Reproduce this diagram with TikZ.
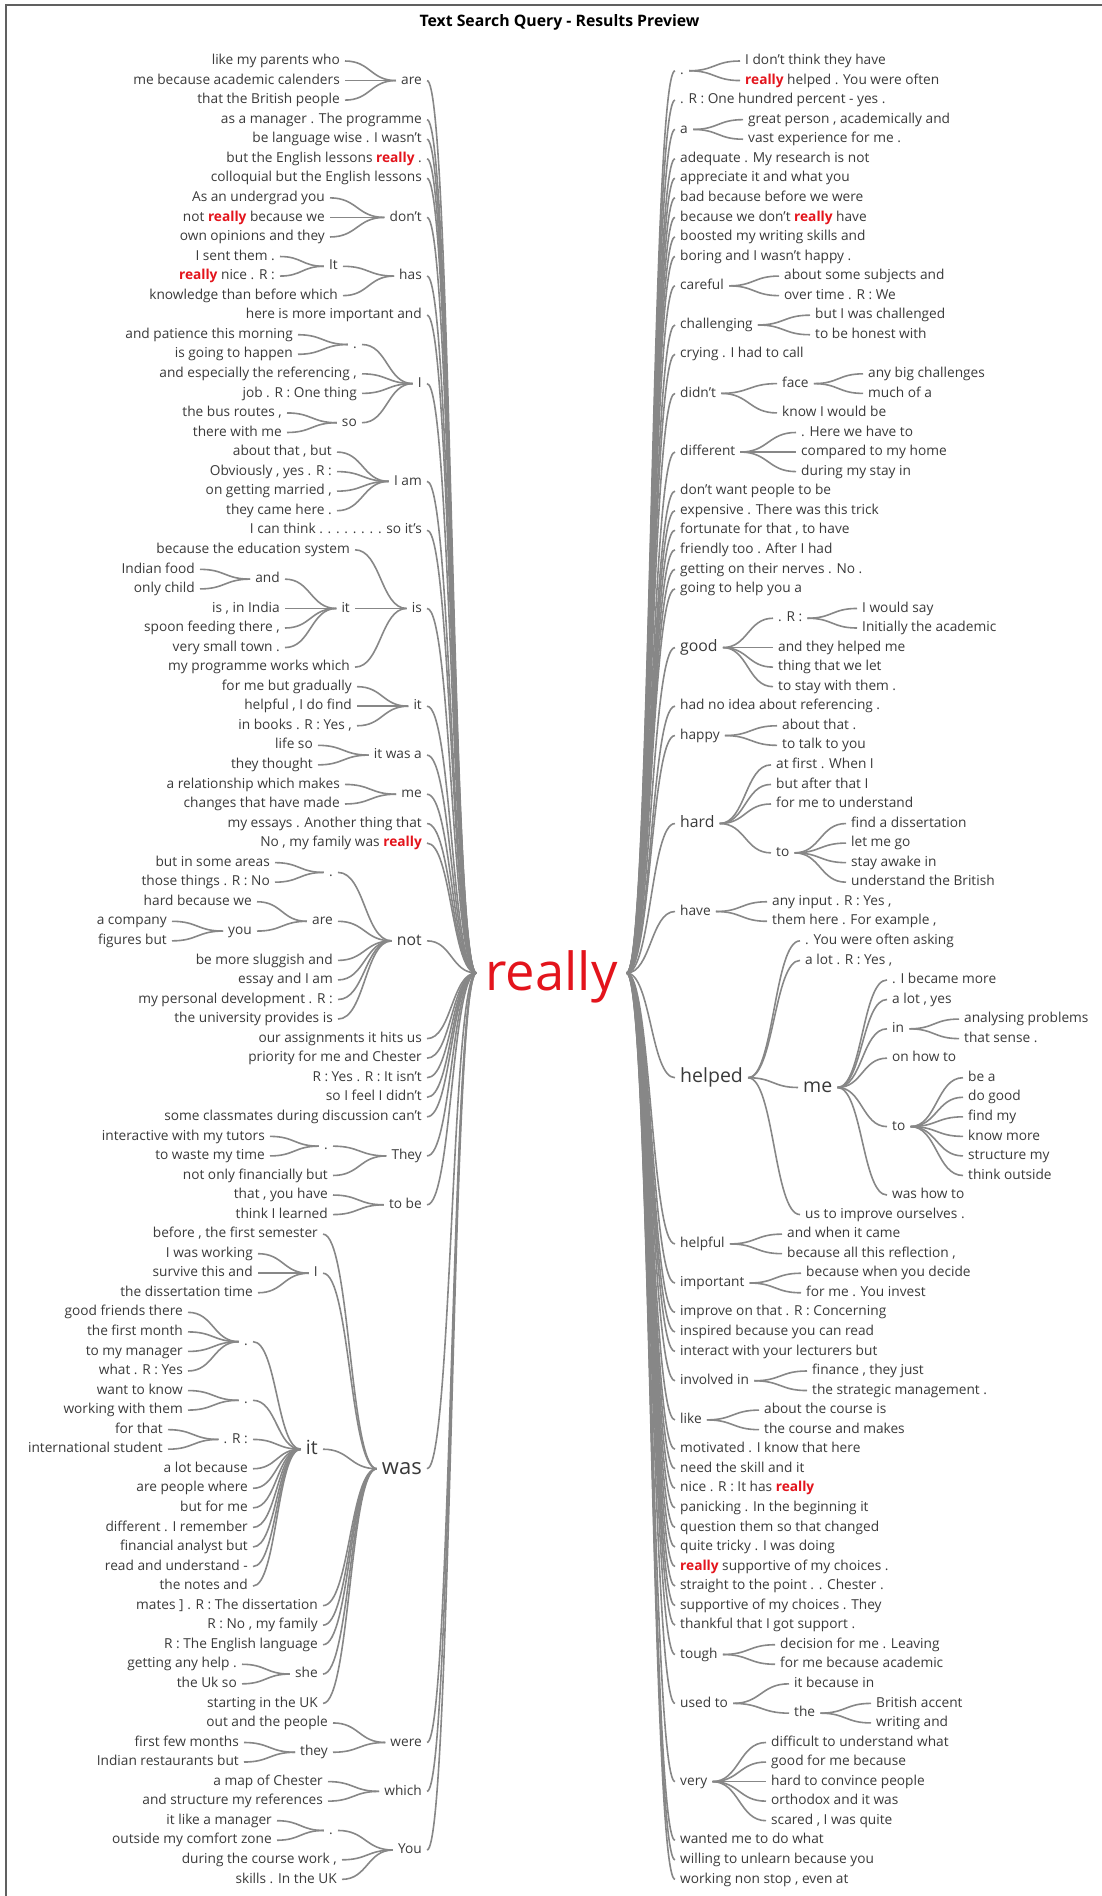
\documentclass[tikz,border=0pt]{standalone}
\usepackage{fontspec}
\setmainfont{Open Sans}
\usetikzlibrary{calc}
\definecolor{tx}{HTML}{3A3A3A}
\definecolor{lc}{HTML}{878787}
\definecolor{rd}{HTML}{E3141C}
\definecolor{fr}{HTML}{606060}
\newcommand\RedR{{\bfseries\color{rd}really}}
\newcommand\RY[1]{61+19.552*(#1)}
\newcommand\Lw[4]{\node[L] (#1) at (#2,{\RY{#3}}) {#4};}
\newcommand\Rw[4]{\node[R] (#1) at (#2,{\RY{#3}}) {#4};}
\tikzset{
 wd/.style={font=\fontsize{13.7pt}{16pt}\selectfont, text=tx, inner xsep=5pt, inner ysep=0pt, text height=9.5pt, text depth=2.2pt},
 L/.style={wd, anchor=east, xshift=5pt},
 R/.style={wd, anchor=west, xshift=-5pt},
 md/.style={font=\fontsize{15.8pt}{18pt}\selectfont, text height=11pt, text depth=2.6pt},
 bg/.style={font=\fontsize{19.5pt}{22pt}\selectfont, text height=13.4pt, text depth=3.1pt},
 bgg/.style={font=\fontsize{22pt}{25pt}\selectfont, text height=15.1pt, text depth=3.5pt},
 hc/.style={to path={let \p1=(\tikztostart), \p2=(\tikztotarget), \p3=($(\p1)!0.5!(\p2)$) in .. controls (\x3,\y1) and (\x3,\y2) .. (\tikztotarget)}},
 ln/.style={draw=lc, line width=1.6pt, hc},
}
\begin{document}
\begin{tikzpicture}[x=1pt,y=-1pt]
\useasboundingbox (0,0) rectangle (1102,1896);
\draw[draw=fr, line width=2pt] (6,1896) -- (6,4.5) -- (1102,4.5);
\node[font=\fontsize{15.8pt}{18pt}\selectfont\bfseries, text=black, inner sep=0pt] (title) at (559.5,22) {Text Search Query - Results Preview};
\node[font=\fontsize{52.5pt}{60pt}\selectfont, text=rd, inner xsep=9pt, inner ysep=0pt, text height=40pt, text depth=6pt] (rt) at (551.5,973) {really};

% ---------- LEFT: level 1 ----------
\Lw{a1}{422}{1}{are}
\Lw{l3}{422}{3}{as a manager . The programme}
\Lw{l4}{422}{4}{be language wise . I wasn't}
\Lw{l5}{422}{5}{but the English lessons \RedR{} .}
\Lw{l6}{422}{6}{colloquial but the English lessons}
\Lw{a2}{422}{8}{don't}
\Lw{a3}{422}{11}{has}
\Lw{l13}{422}{13}{here is more important and}
\Lw{a4}{422}{16.5}{I}
\Lw{a5}{422}{21.5}{I am}
\Lw{l24}{422}{24}{I can think . . . . . . . . so it's}
\Lw{a6}{422}{28}{is}
\Lw{a7}{422}{33}{it}
\Lw{a8}{422}{35.5}{it was a}
\Lw{a9}{422}{37.5}{me}
\Lw{l39}{422}{39}{my essays . Another thing that}
\Lw{l40}{422}{40}{No , my family was \RedR}
\node[L,md] (a10) at (422,{\RY{45}}) {not};
\Lw{l50}{422}{50}{our assignments it hits us}
\Lw{l51}{422}{51}{priority for me and Chester}
\Lw{l52}{422}{52}{R : Yes . R : It isn't}
\Lw{l53}{422}{53}{so I feel I didn't}
\Lw{l54}{422}{54}{some classmates during discussion can't}
\Lw{a11}{422}{56}{They}
\Lw{a12}{422}{58.5}{to be}
\node[L,bgg] (a13) at (422,{\RY{72}}) {was};
\Lw{a14}{422}{86}{were}
\Lw{a15}{422}{88.5}{which}
\Lw{a16}{422}{91.5}{You}

% ---------- LEFT: deeper ----------
\Lw{l0}{340}{0}{like my parents who}
\Lw{l1}{340}{1}{me because academic calenders}
\Lw{l2}{340}{2}{that the British people}
\Lw{l7}{325}{7}{As an undergrad you}
\Lw{l8}{325}{8}{not \RedR{} because we}
\Lw{l9}{325}{9}{own opinions and they}
\Lw{b1}{338}{10.5}{It}
\Lw{l10}{275}{10}{I sent them .}
\Lw{l11}{275}{11}{\RedR{} nice . R :}
\Lw{l12}{338}{12}{knowledge than before which}
\Lw{b2}{357}{14.5}{.}
\Lw{l14}{293}{14}{and patience this morning}
\Lw{l15}{293}{15}{is going to happen}
\Lw{l16}{357}{16}{and especially the referencing ,}
\Lw{l17}{357}{17}{job . R : One thing}
\Lw{b3}{357}{18.5}{so}
\Lw{l18}{282}{18}{the bus routes ,}
\Lw{l19}{282}{19}{there with me}
\Lw{l20}{332}{20}{about that , but}
\Lw{l21}{332}{21}{Obviously , yes . R :}
\Lw{l22}{332}{22}{on getting married ,}
\Lw{l23}{332}{23}{they came here .}
\Lw{l25}{350}{25}{because the education system}
\Lw{b4}{350}{28}{it}
\Lw{b5}{280}{26.5}{and}
\Lw{l26}{195}{26}{Indian food}
\Lw{l27}{195}{27}{only child}
\Lw{l28}{280}{28}{is , in India}
\Lw{l29}{280}{29}{spoon feeding there ,}
\Lw{l30}{280}{30}{very small town .}
\Lw{l31}{350}{31}{my programme works which}
\Lw{l32}{352}{32}{for me but gradually}
\Lw{l33}{352}{33}{helpful , I do find}
\Lw{l34}{352}{34}{in books . R : Yes ,}
\Lw{l35}{313}{35}{life so}
\Lw{l36}{313}{36}{they thought}
\Lw{l37}{340}{37}{a relationship which makes}
\Lw{l38}{340}{38}{changes that have made}
\Lw{b6}{333}{41.5}{.}
\Lw{l41}{270}{41}{but in some areas}
\Lw{l42}{270}{42}{those things . R : No}
\Lw{b7}{333}{44}{are}
\Lw{l43}{252}{43}{hard because we}
\Lw{b8}{252}{44.5}{you}
\Lw{l44}{167}{44}{a company}
\Lw{l45}{167}{45}{figures but}
\Lw{l46}{333}{46}{be more sluggish and}
\Lw{l47}{333}{47}{essay and I am}
\Lw{l48}{333}{48}{my personal development . R :}
\Lw{l49}{333}{49}{the university provides is}
\Lw{b9}{328}{55.5}{.}
\Lw{l55}{265}{55}{interactive with my tutors}
\Lw{l56}{265}{56}{to waste my time}
\Lw{l57}{328}{57}{not only financially but}
\Lw{l58}{328}{58}{that , you have}
\Lw{l59}{328}{59}{think I learned}
\Lw{l60}{318}{60}{before , the first semester}
\Lw{b10}{318}{62}{I}
\Lw{l61}{253}{61}{I was working}
\Lw{l62}{253}{62}{survive this and}
\Lw{l63}{253}{63}{the dissertation time}
\node[L,bg] (b11) at (318,{\RY{71}}) {it};
\Lw{b13}{248}{65.5}{.}
\Lw{l64}{183}{64}{good friends there}
\Lw{l65}{183}{65}{the first month}
\Lw{l66}{183}{66}{to my manager}
\Lw{l67}{183}{67}{what . R : Yes}
\Lw{b14}{248}{68.5}{.}
\Lw{l68}{183}{68}{want to know}
\Lw{l69}{183}{69}{working with them}
\Lw{b15}{248}{70.5}{. R :}
\Lw{l70}{163}{70}{for that}
\Lw{l71}{163}{71}{international student}
\Lw{l72}{248}{72}{a lot because}
\Lw{l73}{248}{73}{are people where}
\Lw{l74}{248}{74}{but for me}
\Lw{l75}{248}{75}{different . I remember}
\Lw{l76}{248}{76}{financial analyst but}
\Lw{l77}{248}{77}{read and understand -}
\Lw{l78}{248}{78}{the notes and}
\Lw{l79}{318}{79}{mates ] . R : The dissertation}
\Lw{l80}{318}{80}{R : No , my family}
\Lw{l81}{318}{81}{R : The English language}
\Lw{b12}{318}{82.5}{she}
\Lw{l82}{237}{82}{getting any help .}
\Lw{l83}{237}{83}{the Uk so}
\Lw{l84}{318}{84}{starting in the UK}
\Lw{l85}{328}{85}{out and the people}
\Lw{b16}{328}{86.5}{they}
\Lw{l86}{239}{86}{first few months}
\Lw{l87}{239}{87}{Indian restaurants but}
\Lw{l88}{323}{88}{a map of Chester}
\Lw{l89}{323}{89}{and structure my references}
\Lw{b17}{333}{90.5}{.}
\Lw{l90}{272}{90}{it like a manager}
\Lw{l91}{272}{91}{outside my comfort zone}
\Lw{l92}{337}{92}{during the course work ,}
\Lw{l93}{337}{93}{skills . In the UK}

% ---------- RIGHT: level 1 ----------
\Rw{c1}{680}{0.5}{.}
\Rw{m2}{680}{2}{. R : One hundred percent - yes .}
\Rw{c2}{680}{3.5}{a}
\Rw{m5}{680}{5}{adequate . My research is not}
\Rw{m6}{680}{6}{appreciate it and what you}
\Rw{m7}{680}{7}{bad because before we were}
\Rw{m8}{680}{8}{because we don't \RedR{} have}
\Rw{m9}{680}{9}{boosted my writing skills and}
\Rw{m10}{680}{10}{boring and I wasn't happy .}
\Rw{c3}{680}{11.5}{careful}
\Rw{c4}{680}{13.5}{challenging}
\Rw{m15}{680}{15}{crying . I had to call}
\Rw{c5}{680}{17}{didn't}
\Rw{c6}{680}{20}{different}
\Rw{m22}{680}{22}{don't want people to be}
\Rw{m23}{680}{23}{expensive . There was this trick}
\Rw{m24}{680}{24}{fortunate for that , to have}
\Rw{m25}{680}{25}{friendly too . After I had}
\Rw{m26}{680}{26}{getting on their nerves . No .}
\Rw{m27}{680}{27}{going to help you a}
\node[R,md] (c7) at (680,{\RY{30}}) {good};
\Rw{m33}{680}{33}{had no idea about referencing .}
\Rw{c8}{680}{34.5}{happy}
\node[R,md] (c9) at (680,{\RY{39}}) {hard};
\Rw{c10}{680}{43.5}{have}
\node[R,bg] (c11) at (680,{\RY{52}}) {helped};
\Rw{c12}{680}{60.5}{helpful}
\Rw{c13}{680}{62.5}{important}
\Rw{m64}{680}{64}{improve on that . R : Concerning}
\Rw{m65}{680}{65}{inspired because you can read}
\Rw{m66}{680}{66}{interact with your lecturers but}
\Rw{c14}{680}{67.5}{involved in}
\Rw{c15}{680}{69.5}{like}
\Rw{m71}{680}{71}{motivated . I know that here}
\Rw{m72}{680}{72}{need the skill and it}
\Rw{m73}{680}{73}{nice . R : It has \RedR}
\Rw{m74}{680}{74}{panicking . In the beginning it}
\Rw{m75}{680}{75}{question them so that changed}
\Rw{m76}{680}{76}{quite tricky . I was doing}
\Rw{m77}{680}{77}{\RedR{} supportive of my choices .}
\Rw{m78}{680}{78}{straight to the point . . Chester .}
\Rw{m79}{680}{79}{supportive of my choices . They}
\Rw{m80}{680}{80}{thankful that I got support .}
\Rw{c16}{680}{81.5}{tough}
\Rw{c17}{680}{84}{used to}
\Rw{c18}{680}{88}{very}
\Rw{m91}{680}{91}{wanted me to do what}
\Rw{m92}{680}{92}{willing to unlearn because you}
\Rw{m93}{680}{93}{working non stop , even at}

% ---------- RIGHT: deeper ----------
\Rw{m0}{745}{0}{I don't think they have}
\Rw{m1}{745}{1}{\RedR{} helped . You were often}
\Rw{m3}{748}{3}{great person , academically and}
\Rw{m4}{748}{4}{vast experience for me .}
\Rw{m11}{784}{11}{about some subjects and}
\Rw{m12}{784}{12}{over time . R : We}
\Rw{m13}{815}{13}{but I was challenged}
\Rw{m14}{815}{14}{to be honest with}
\Rw{d1}{782}{16.5}{face}
\Rw{m16}{868}{16}{any big challenges}
\Rw{m17}{868}{17}{much of a}
\Rw{m18}{782}{18}{know I would be}
\Rw{m19}{801}{19}{. Here we have to}
\Rw{m20}{801}{20}{compared to my home}
\Rw{m21}{801}{21}{during my stay in}
\Rw{d2}{778}{28.5}{. R :}
\Rw{m28}{862}{28}{I would say}
\Rw{m29}{862}{29}{Initially the academic}
\Rw{m30}{778}{30}{and they helped me}
\Rw{m31}{778}{31}{thing that we let}
\Rw{m32}{778}{32}{to stay with them .}
\Rw{m34}{782}{34}{about that .}
\Rw{m35}{782}{35}{to talk to you}
\Rw{m36}{776}{36}{at first . When I}
\Rw{m37}{776}{37}{but after that I}
\Rw{m38}{776}{38}{for me to understand}
\Rw{d3}{776}{40.5}{to}
\Rw{m39}{851}{39}{find a dissertation}
\Rw{m40}{851}{40}{let me go}
\Rw{m41}{851}{41}{stay awake in}
\Rw{m42}{851}{42}{understand the British}
\Rw{m43}{772}{43}{any input . R : Yes ,}
\Rw{m44}{772}{44}{them here . For example ,}
\Rw{m45}{805}{45}{. You were often asking}
\Rw{m46}{805}{46}{a lot . R : Yes ,}
\node[R,bg] (d4) at (803,{\RY{52.5}}) {me};
\Rw{m47}{892}{47}{. I became more}
\Rw{m48}{892}{48}{a lot , yes}
\Rw{d5}{892}{49.5}{in}
\Rw{m49}{964}{49}{analysing problems}
\Rw{m50}{964}{50}{that sense .}
\Rw{m51}{892}{51}{on how to}
\Rw{d6}{892}{54.5}{to}
\Rw{m52}{968}{52}{be a}
\Rw{m53}{968}{53}{do good}
\Rw{m54}{968}{54}{find my}
\Rw{m55}{968}{55}{know more}
\Rw{m56}{968}{56}{structure my}
\Rw{m57}{968}{57}{think outside}
\Rw{m58}{892}{58}{was how to}
\Rw{m59}{805}{59}{us to improve ourselves .}
\Rw{m60}{787}{60}{and when it came}
\Rw{m61}{787}{61}{because all this reflection ,}
\Rw{m62}{806}{62}{because when you decide}
\Rw{m63}{806}{63}{for me . You invest}
\Rw{m67}{812}{67}{finance , they just}
\Rw{m68}{812}{68}{the strategic management .}
\Rw{m69}{764}{69}{about the course is}
\Rw{m70}{764}{70}{the course and makes}
\Rw{m81}{780}{81}{decision for me . Leaving}
\Rw{m82}{780}{82}{for me because academic}
\Rw{m83}{794}{83}{it because in}
\Rw{d7}{794}{84.5}{the}
\Rw{m84}{876}{84}{British accent}
\Rw{m85}{876}{85}{writing and}
\Rw{m86}{771}{86}{difficult to understand what}
\Rw{m87}{771}{87}{good for me because}
\Rw{m88}{771}{88}{hard to convince people}
\Rw{m89}{771}{89}{orthodox and it was}
\Rw{m90}{771}{90}{scared , I was quite}

% ---------- connectors LEFT ----------
\foreach \ch in {a1,l3,l4,l5,l6,a2,a3,l13,a4,a5,l24,a6,a7,a8,a9,l39,l40,a10,l50,l51,l52,l53,l54,a11,a12,a13,a14,a15,a16}
  {\draw[ln] (\ch.east) to (rt.west);}
\foreach \pa/\kids in {a1/{l0,l1,l2}, a2/{l7,l8,l9}, a3/{b1,l12}, b1/{l10,l11},
  a4/{b2,l16,l17,b3}, b2/{l14,l15}, b3/{l18,l19}, a5/{l20,l21,l22,l23},
  a6/{l25,b4,l31}, b4/{b5,l28,l29,l30}, b5/{l26,l27}, a7/{l32,l33,l34},
  a8/{l35,l36}, a9/{l37,l38}, a10/{b6,b7,l46,l47,l48,l49}, b6/{l41,l42},
  b7/{l43,b8}, b8/{l44,l45}, a11/{b9,l57}, b9/{l55,l56}, a12/{l58,l59},
  a13/{l60,b10,b11,l79,l80,l81,b12,l84}, b10/{l61,l62,l63},
  b11/{b13,b14,b15,l72,l73,l74,l75,l76,l77,l78}, b13/{l64,l65,l66,l67},
  b14/{l68,l69}, b15/{l70,l71}, b12/{l82,l83}, a14/{l85,b16}, b16/{l86,l87},
  a15/{l88,l89}, a16/{b17,l92,l93}, b17/{l90,l91}}
  {\foreach \ch in \kids {\draw[ln] (\ch.east) to (\pa.west);}}

% ---------- connectors RIGHT ----------
\foreach \ch in {c1,m2,c2,m5,m6,m7,m8,m9,m10,c3,c4,m15,c5,c6,m22,m23,m24,m25,m26,m27,c7,m33,c8,c9,c10,c11,c12,c13,m64,m65,m66,c14,c15,m71,m72,m73,m74,m75,m76,m77,m78,m79,m80,c16,c17,c18,m91,m92,m93}
  {\draw[ln] (rt.east) to (\ch.west);}
\foreach \pa/\kids in {c1/{m0,m1}, c2/{m3,m4}, c3/{m11,m12}, c4/{m13,m14},
  c5/{d1,m18}, d1/{m16,m17}, c6/{m19,m20,m21}, c7/{d2,m30,m31,m32}, d2/{m28,m29},
  c8/{m34,m35}, c9/{m36,m37,m38,d3}, d3/{m39,m40,m41,m42}, c10/{m43,m44},
  c11/{m45,m46,d4,m59}, d4/{m47,m48,d5,m51,d6,m58}, d5/{m49,m50},
  d6/{m52,m53,m54,m55,m56,m57}, c12/{m60,m61}, c13/{m62,m63}, c14/{m67,m68},
  c15/{m69,m70}, c16/{m81,m82}, c17/{m83,d7}, d7/{m84,m85}, c18/{m86,m87,m88,m89,m90}}
  {\foreach \ch in \kids {\draw[ln] (\pa.east) to (\ch.west);}}
\end{tikzpicture}
\end{document}
